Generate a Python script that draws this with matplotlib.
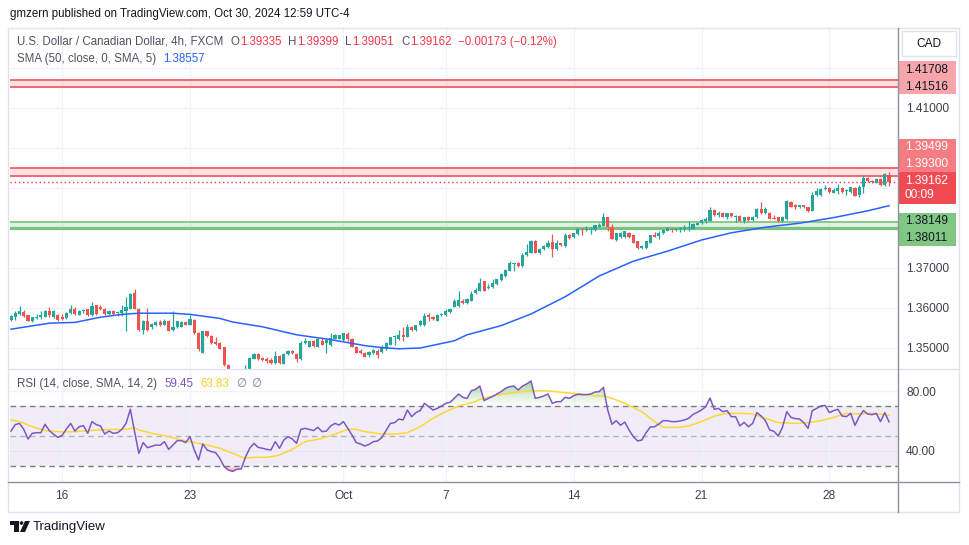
import numpy as np
import matplotlib
matplotlib.use("Agg")
import matplotlib.pyplot as plt
from matplotlib.patches import Rectangle, Polygon, Ellipse
from matplotlib.lines import Line2D
from matplotlib.path import Path
from matplotlib.colors import LinearSegmentedColormap

plt.rcParams['font.family'] = ['Liberation Sans', 'DejaVu Sans']

# ---- data (USD/CAD 4h, FXCM) ----
opens = [1.3570, 1.3577, 1.3585, 1.3590, 1.3582, 1.3567, 1.3575, 1.3577, 1.3578, 1.3593,
         1.3577, 1.3583, 1.3578, 1.3575, 1.3588, 1.3597, 1.3583, 1.3592, 1.3597, 1.3582,
         1.3607, 1.3602, 1.3598, 1.3585, 1.3593, 1.3588, 1.3588, 1.3593, 1.3598, 1.3637,
         1.3598, 1.3545, 1.3568, 1.3552, 1.3557, 1.3565, 1.3558, 1.3568, 1.3545, 1.3552,
         1.3552, 1.3565, 1.3558, 1.3570, 1.3538, 1.3488, 1.3542, 1.3530, 1.3515, 1.3513,
         1.3502, 1.3458, 1.3440, 1.3430, 1.3438, 1.3436, 1.3440, 1.3473, 1.3485, 1.3475,
         1.3472, 1.3470, 1.3462, 1.3480, 1.3460, 1.3485, 1.3493, 1.3485, 1.3472, 1.3512,
         1.3503, 1.3517, 1.3503, 1.3518, 1.3513, 1.3507, 1.3523, 1.3523, 1.3520, 1.3535,
         1.3523, 1.3503, 1.3493, 1.3488, 1.3482, 1.3487, 1.3493, 1.3490, 1.3497, 1.3508,
         1.3527, 1.3523, 1.3533, 1.3528, 1.3553, 1.3545, 1.3557, 1.3557, 1.3582, 1.3578,
         1.3568, 1.3582, 1.3582, 1.3590, 1.3603, 1.3605, 1.3618, 1.3612, 1.3618, 1.3637,
         1.3643, 1.3667, 1.3650, 1.3652, 1.3660, 1.3670, 1.3680, 1.3692, 1.3710, 1.3713,
         1.3705, 1.3732, 1.3738, 1.3767, 1.3737, 1.3747, 1.3752, 1.3765, 1.3747, 1.3762,
         1.3755, 1.3783, 1.3777, 1.3785, 1.3797, 1.3795, 1.3795, 1.3795, 1.3803, 1.3805,
         1.3827, 1.3802, 1.3770, 1.3777, 1.3777, 1.3788, 1.3782, 1.3767, 1.3750, 1.3750,
         1.3763, 1.3782, 1.3780, 1.3787, 1.3793, 1.3798, 1.3795, 1.3797, 1.3797, 1.3800,
         1.3798, 1.3808, 1.3812, 1.3817, 1.3817, 1.3845, 1.3832, 1.3838, 1.3828, 1.3837,
         1.3828, 1.3830, 1.3818, 1.3828, 1.3820, 1.3827, 1.3848, 1.3837, 1.3838, 1.3825,
         1.3827, 1.3817, 1.3823, 1.3865, 1.3857, 1.3852, 1.3857, 1.3852, 1.3842, 1.3882,
         1.3882, 1.3898, 1.3900, 1.3888, 1.3893, 1.3900, 1.3892, 1.3890, 1.3900, 1.3882,
         1.3903, 1.3925, 1.3917, 1.3913, 1.3923, 1.3907, 1.39335]
highs = [1.3582, 1.3592, 1.3606, 1.3595, 1.3583, 1.3578, 1.3585, 1.3592, 1.3595, 1.3602,
         1.3595, 1.3585, 1.3585, 1.3590, 1.3608, 1.3602, 1.3595, 1.3598, 1.3598, 1.3615,
         1.3608, 1.3607, 1.3600, 1.3595, 1.3595, 1.3593, 1.3608, 1.3627, 1.3637, 1.3648,
         1.3600, 1.3570, 1.3600, 1.3563, 1.3567, 1.3570, 1.3573, 1.3570, 1.3592, 1.3568,
         1.3567, 1.3567, 1.3582, 1.3572, 1.3540, 1.3543, 1.3543, 1.3532, 1.3527, 1.3515,
         1.3503, 1.3460, 1.3446, 1.3442, 1.3444, 1.3457, 1.3477, 1.3488, 1.3487, 1.3478,
         1.3478, 1.3475, 1.3492, 1.3482, 1.3487, 1.3495, 1.3495, 1.3487, 1.3518, 1.3525,
         1.3518, 1.3520, 1.3525, 1.3528, 1.3523, 1.3538, 1.3535, 1.3533, 1.3538, 1.3540,
         1.3525, 1.3505, 1.3497, 1.3490, 1.3492, 1.3497, 1.3497, 1.3507, 1.3515, 1.3528,
         1.3533, 1.3545, 1.3553, 1.3560, 1.3555, 1.3558, 1.3570, 1.3588, 1.3588, 1.3580,
         1.3585, 1.3587, 1.3597, 1.3598, 1.3622, 1.3642, 1.3622, 1.3625, 1.3643, 1.3650,
         1.3675, 1.3668, 1.3660, 1.3672, 1.3673, 1.3687, 1.3697, 1.3718, 1.3713, 1.3715,
         1.3738, 1.3760, 1.3770, 1.3770, 1.3750, 1.3757, 1.3770, 1.3785, 1.3770, 1.3763,
         1.3787, 1.3785, 1.3788, 1.3800, 1.3800, 1.3805, 1.3802, 1.3808, 1.3812, 1.3838,
         1.3828, 1.3810, 1.3788, 1.3790, 1.3793, 1.3790, 1.3783, 1.3768, 1.3757, 1.3768,
         1.3783, 1.3790, 1.3792, 1.3797, 1.3802, 1.3800, 1.3800, 1.3802, 1.3807, 1.3817,
         1.3812, 1.3815, 1.3823, 1.3827, 1.3852, 1.3847, 1.3842, 1.3840, 1.3838, 1.3838,
         1.3833, 1.3832, 1.3828, 1.3830, 1.3830, 1.3850, 1.3865, 1.3853, 1.3840, 1.3832,
         1.3828, 1.3830, 1.3870, 1.3867, 1.3860, 1.3858, 1.3858, 1.3853, 1.3890, 1.3900,
         1.3900, 1.3907, 1.3902, 1.3900, 1.3910, 1.3902, 1.3898, 1.3903, 1.3902, 1.3907,
         1.3932, 1.3928, 1.3920, 1.3925, 1.3925, 1.3938, 1.39399]
lows = [1.3568, 1.3570, 1.3582, 1.3577, 1.3567, 1.3565, 1.3572, 1.3572, 1.3577, 1.3578,
        1.3575, 1.3568, 1.3570, 1.3573, 1.3585, 1.3583, 1.3582, 1.3588, 1.3580, 1.3580,
        1.3583, 1.3595, 1.3583, 1.3583, 1.3583, 1.3580, 1.3580, 1.3542, 1.3597, 1.3597,
        1.3543, 1.3535, 1.3543, 1.3547, 1.3555, 1.3555, 1.3557, 1.3542, 1.3543, 1.3550,
        1.3552, 1.3557, 1.3557, 1.3535, 1.3492, 1.3488, 1.3528, 1.3510, 1.3508, 1.3497,
        1.3455, 1.3435, 1.3425, 1.3420, 1.3428, 1.3430, 1.3435, 1.3472, 1.3470, 1.3467,
        1.3463, 1.3460, 1.3460, 1.3460, 1.3460, 1.3483, 1.3485, 1.3465, 1.3470, 1.3510,
        1.3502, 1.3503, 1.3502, 1.3507, 1.3488, 1.3505, 1.3522, 1.3522, 1.3518, 1.3518,
        1.3502, 1.3487, 1.3485, 1.3477, 1.3478, 1.3485, 1.3475, 1.3488, 1.3495, 1.3507,
        1.3508, 1.3520, 1.3518, 1.3528, 1.3543, 1.3543, 1.3555, 1.3555, 1.3568, 1.3570,
        1.3567, 1.3580, 1.3580, 1.3588, 1.3602, 1.3603, 1.3610, 1.3610, 1.3617, 1.3635,
        1.3642, 1.3642, 1.3647, 1.3650, 1.3658, 1.3668, 1.3678, 1.3692, 1.3692, 1.3703,
        1.3703, 1.3730, 1.3737, 1.3737, 1.3735, 1.3745, 1.3750, 1.3727, 1.3745, 1.3755,
        1.3753, 1.3773, 1.3775, 1.3783, 1.3782, 1.3792, 1.3785, 1.3793, 1.3802, 1.3805,
        1.3792, 1.3772, 1.3768, 1.3775, 1.3775, 1.3775, 1.3762, 1.3748, 1.3748, 1.3748,
        1.3762, 1.3777, 1.3772, 1.3785, 1.3792, 1.3790, 1.3792, 1.3790, 1.3792, 1.3793,
        1.3797, 1.3807, 1.3810, 1.3813, 1.3817, 1.3830, 1.3828, 1.3827, 1.3823, 1.3828,
        1.3815, 1.3817, 1.3813, 1.3818, 1.3818, 1.3825, 1.3835, 1.3835, 1.3822, 1.3822,
        1.3815, 1.3815, 1.3820, 1.3852, 1.3848, 1.3850, 1.3850, 1.3840, 1.3842, 1.3880,
        1.3880, 1.3895, 1.3888, 1.3887, 1.3885, 1.3887, 1.3883, 1.3888, 1.3880, 1.3878,
        1.3887, 1.3915, 1.3912, 1.3912, 1.3905, 1.3905, 1.39051]
closes = [1.3580, 1.3587, 1.3592, 1.3580, 1.3568, 1.3577, 1.3578, 1.3582, 1.3593, 1.3582,
          1.3593, 1.3570, 1.3572, 1.3588, 1.3597, 1.3585, 1.3593, 1.3595, 1.3582, 1.3605,
          1.3585, 1.3598, 1.3585, 1.3593, 1.3585, 1.3590, 1.3595, 1.3603, 1.3635, 1.3598,
          1.3545, 1.3568, 1.3545, 1.3560, 1.3565, 1.3558, 1.3568, 1.3543, 1.3553, 1.3567,
          1.3565, 1.3558, 1.3572, 1.3538, 1.3498, 1.3542, 1.3530, 1.3512, 1.3510, 1.3498,
          1.3457, 1.3440, 1.3430, 1.3438, 1.3432, 1.3446, 1.3475, 1.3485, 1.3472, 1.3470,
          1.3467, 1.3463, 1.3480, 1.3462, 1.3485, 1.3492, 1.3487, 1.3472, 1.3513, 1.3517,
          1.3517, 1.3505, 1.3522, 1.3508, 1.3520, 1.3525, 1.3532, 1.3532, 1.3537, 1.3522,
          1.3503, 1.3488, 1.3488, 1.3478, 1.3490, 1.3495, 1.3483, 1.3500, 1.3512, 1.3527,
          1.3528, 1.3533, 1.3527, 1.3553, 1.3545, 1.3557, 1.3568, 1.3580, 1.3577, 1.3572,
          1.3583, 1.3585, 1.3593, 1.3597, 1.3618, 1.3620, 1.3612, 1.3623, 1.3635, 1.3645,
          1.3663, 1.3643, 1.3653, 1.3662, 1.3672, 1.3685, 1.3695, 1.3713, 1.3712, 1.3705,
          1.3733, 1.3740, 1.3767, 1.3738, 1.3748, 1.3755, 1.3763, 1.3747, 1.3762, 1.3758,
          1.3783, 1.3775, 1.3787, 1.3797, 1.3795, 1.3797, 1.3797, 1.3807, 1.3807, 1.3827,
          1.3802, 1.3772, 1.3787, 1.3788, 1.3792, 1.3778, 1.3763, 1.3750, 1.3755, 1.3767,
          1.3782, 1.3778, 1.3787, 1.3795, 1.3800, 1.3795, 1.3797, 1.3798, 1.3800, 1.3803,
          1.3810, 1.3813, 1.3820, 1.3822, 1.3845, 1.3832, 1.3838, 1.3828, 1.3837, 1.3830,
          1.3830, 1.3818, 1.3827, 1.3820, 1.3828, 1.3848, 1.3837, 1.3848, 1.3823, 1.3823,
          1.3817, 1.3828, 1.3867, 1.3853, 1.3852, 1.3857, 1.3852, 1.3842, 1.3883, 1.3892,
          1.3898, 1.3900, 1.3890, 1.3895, 1.3900, 1.3890, 1.3895, 1.3902, 1.3880, 1.3903,
          1.3925, 1.3917, 1.3915, 1.3922, 1.3907, 1.3935, 1.39162]

# SMA(50) read at sample bars
sma_bars = [0, 9, 15, 21, 26, 30, 38, 42, 49, 52, 59, 67, 75, 83, 87, 91, 96, 100, 104,
            107, 115, 122, 130, 138, 146, 154, 162, 169, 177, 185, 193, 201, 206]
sma_vals = [1.3547, 1.3562, 1.3564, 1.3577, 1.3584, 1.3587, 1.3587, 1.3584, 1.3574, 1.3565,
            1.3553, 1.3533, 1.3521, 1.3506, 1.3501, 1.3498, 1.3500, 1.3509, 1.3518, 1.3533,
            1.3556, 1.3585, 1.3628, 1.3680, 1.3717, 1.3742, 1.3770, 1.3788, 1.3802, 1.3812,
            1.3826, 1.3843, 1.38557]

rsi = [53.3, 57.6, 58.4, 54.4, 48.0, 51.8, 52.2, 52.2, 57.8, 53.6,
       51.1, 49.1, 50.4, 54.7, 58.4, 53.3, 56.2, 56.9, 51.8, 59.6,
       57.6, 56.7, 51.3, 53.3, 51.8, 52.2, 54.4, 58.4, 67.8, 52.9,
       38.4, 45.6, 42.2, 43.1, 44.0, 43.8, 46.2, 41.1, 44.0, 46.9,
       46.9, 45.6, 49.6, 40.7, 34.0, 44.7, 40.7, 39.6, 38.9, 35.1,
       29.6, 27.3, 26.4, 27.8, 28.0, 35.8, 41.8, 45.1, 42.4, 41.8,
       41.1, 40.7, 46.2, 41.8, 47.3, 49.6, 48.0, 45.1, 54.4, 55.1,
       54.4, 53.6, 55.8, 52.9, 53.3, 56.7, 58.4, 57.3, 59.6, 55.1,
       50.7, 45.6, 44.7, 43.3, 44.4, 46.2, 46.7, 48.9, 53.6, 58.4,
       58.9, 61.3, 60.7, 67.3, 62.9, 65.6, 66.9, 71.8, 69.6, 67.3,
       68.4, 70.0, 71.8, 72.4, 75.1, 78.0, 75.8, 75.1, 80.2, 81.1,
       83.3, 73.6, 75.1, 76.4, 78.0, 79.6, 81.8, 82.9, 83.3, 80.7,
       83.3, 84.7, 86.7, 75.1, 75.8, 76.7, 78.0, 71.8, 72.9, 72.9,
       75.8, 75.1, 76.9, 77.8, 77.6, 77.6, 78.0, 79.3, 79.6, 82.4,
       67.3, 57.8, 60.2, 57.1, 59.3, 54.0, 49.6, 46.7, 47.3, 52.2,
       56.0, 56.2, 58.0, 60.2, 60.2, 59.6, 59.6, 60.0, 60.7, 61.8,
       64.4, 65.8, 67.3, 69.6, 75.3, 67.8, 68.4, 66.2, 66.9, 62.9,
       62.9, 56.7, 59.1, 56.2, 58.4, 65.6, 63.3, 60.2, 54.0, 53.1,
       50.0, 55.8, 66.2, 62.4, 61.6, 61.3, 58.9, 55.1, 66.9, 68.4,
       70.0, 70.4, 65.6, 66.9, 67.8, 63.3, 62.9, 65.1, 57.1, 62.9,
       66.9, 64.7, 64.2, 65.1, 59.6, 65.6, 59.45]

# RSI-based SMA(14) read at sample bars
rsi_ma_bars = [0, 2, 5, 8, 12, 15, 18, 21, 24, 27, 29, 30, 33, 37, 40, 43, 46, 49, 52, 55,
               57, 60, 63, 66, 69, 73, 76, 79, 81, 83, 87, 90, 93, 96, 99, 102, 105, 109,
               110, 114, 118, 122, 126, 130, 134, 137, 139, 141, 144, 148, 151, 153, 157,
               159, 162, 165, 168, 171, 174, 177, 180, 184, 187, 190, 193, 196, 199, 202, 206]
rsi_ma_vals = [60.7, 59.6, 56.2, 53.6, 52.7, 52.9, 53.6, 54.0, 54.4, 54.4, 55.6, 54.0, 51.8,
               49.6, 47.3, 45.6, 44.0, 41.8, 38.4, 35.1, 35.8, 35.8, 37.3, 41.1, 46.2, 48.4,
               51.3, 54.4, 54.4, 52.9, 51.3, 51.3, 52.2, 56.2, 61.8, 66.2, 70.0, 72.9, 74.4,
               77.3, 78.9, 80.2, 80.0, 78.9, 78.0, 76.7, 76.7, 75.1, 71.8, 66.2, 59.6, 55.8,
               55.8, 56.7, 59.6, 63.3, 65.1, 65.1, 64.7, 61.8, 58.9, 58.4, 58.9, 60.2, 62.4,
               65.1, 64.7, 65.1, 63.83]

date_bars = [12, 42, 78, 102, 132, 162, 192]
date_labels = ['16', '23', 'Oct', '7', '14', '21', '28']

resistance_hi = (1.41516, 1.41708)
resistance_lo = (1.39300, 1.39499)
support = (1.38011, 1.38149)
price_grid = [1.35, 1.36, 1.37, 1.38, 1.39, 1.40, 1.41, 1.42]
price_ticks = [1.35, 1.36, 1.37, 1.41]
last_price = 1.39162

# ---- styling ----
GREEN = '#26a69a'
RED = '#ef5350'
GRID = '#f0f3fa'
TXT = '#131722'
LEG = '#50535e'
AXC = '#3d4049'
FS = 8.3
AFS = 8.6

W, H = 970, 545
fig = plt.figure(figsize=(W / 100, H / 100), dpi=100)
fig.patch.set_facecolor('white')


def box(x0, y0, x1, y1):
    return [x0 / W, 1 - y1 / H, (x1 - x0) / W, (y1 - y0) / H]


def prect(x0, y0, x1, y1, **kw):
    fig.add_artist(Rectangle((x0 / W, 1 - y1 / H), (x1 - x0) / W, (y1 - y0) / H,
                             transform=fig.transFigure, **kw))


def ptext(x, y, s, **kw):
    return fig.text(x / W, 1 - y / H, s, **kw)


def pline(xs, ys, **kw):
    fig.add_artist(Line2D([v / W for v in xs], [1 - v / H for v in ys],
                          transform=fig.transFigure, **kw))


ax = fig.add_axes(box(10, 27, 898, 369))
ax2 = fig.add_axes(box(10, 369, 898, 482), sharex=ax)
for a in (ax, ax2):
    for s in a.spines.values():
        s.set_visible(False)
    a.set_axisbelow(True)
    a.set_facecolor('none')

# ---- price pane ----
o = np.array(opens); hi = np.array(highs); lo = np.array(lows); c = np.array(closes)
x = np.arange(len(c))
cols = np.where(c >= o, GREEN, RED)

for v in price_grid:
    ax.axhline(v, color=GRID, lw=1, zorder=0)

ax.axhspan(*resistance_hi, color='#f23645', alpha=0.14, lw=0, zorder=1)
ax.axhspan(*resistance_lo, color='#f23645', alpha=0.14, lw=0, zorder=1)
ax.axhspan(*support, color='#4caf50', alpha=0.16, lw=0, zorder=1)
for v in resistance_hi + resistance_lo:
    ax.axhline(v, color='#f0686f', lw=1.4, zorder=2)
ax.axhline(support[1], color='#81c784', lw=1.3, zorder=2)
ax.axhline(support[0], color='#7bc17f', lw=2.3, zorder=2)
ax.axhline(last_price, color='#f23645', lw=1, ls=(0, (1, 2)), zorder=2)

ax.vlines(x, lo, hi, colors=cols, lw=0.9, zorder=3)
bh = np.maximum(np.abs(c - o), 0.00025)
ax.bar(x, bh, bottom=(o + c) / 2 - bh / 2, width=0.74, color=cols, lw=0, zorder=4)
ax.plot(sma_bars, sma_vals, color='#2962ff', lw=1.1, zorder=5)

ax.set_xlim(-0.23, 208.1)
ax.set_ylim(1.34475, 1.43025)
ax.yaxis.tick_right()
ax.set_yticks(price_ticks, [f'{v:.5f}' for v in price_ticks])
ax.tick_params(axis='y', length=0, pad=5.8, labelsize=AFS, labelcolor=AXC)
ax.tick_params(axis='x', length=0, labelbottom=False)
ax.grid(axis='x', color=GRID, lw=1)

# ---- RSI pane ----
r = np.array(rsi)
for v in (40, 80):
    ax2.axhline(v, color=GRID, lw=1, zorder=0)
ax2.axhspan(30, 70, color='#7e57c2', alpha=0.1, lw=0, zorder=0.5)
ax2.axhline(70, color='#787b86', lw=1, ls=(0, (4, 3)), zorder=2)
ax2.axhline(30, color='#787b86', lw=1, ls=(0, (4, 3)), zorder=2)
ax2.axhline(50, color='#b2b5be', lw=1, ls=(0, (4, 3)), zorder=2)


def grad_fill(axis, xs, ys, level, above, rgb):
    mask = ys > level if above else ys < level
    fb = axis.fill_between(xs, ys, level, where=mask, interpolate=True,
                           facecolor='none', edgecolor='none')
    paths = fb.get_paths()
    if not paths:
        return
    clip = Path.make_compound_path(*paths)
    cm = LinearSegmentedColormap.from_list('g', [(*rgb, 0.0), (*rgb, 0.5)])
    g = np.linspace(0, 1, 128).reshape(-1, 1)
    if above:
        ext = [xs[0], xs[-1], level, ys.max()]
    else:
        ext = [xs[0], xs[-1], ys.min(), level]
        g = g[::-1]
    im = axis.imshow(g, extent=ext, origin='lower', aspect='auto', cmap=cm,
                     vmin=0, vmax=1, zorder=1, interpolation='bilinear')
    im.set_clip_path(clip, axis.transData)


grad_fill(ax2, x.astype(float), r, 70, True, (0.30, 0.69, 0.31))
grad_fill(ax2, x.astype(float), r, 30, False, (0.95, 0.21, 0.27))

ax2.plot(rsi_ma_bars, rsi_ma_vals, color='#fdd835', lw=1.1, zorder=3)
ax2.plot(x, r, color='#7e57c2', lw=1.1, zorder=4)

ax2.set_xlim(-0.23, 208.1)
ax2.set_ylim(19.33, 94.67)
ax2.yaxis.tick_right()
ax2.set_yticks([40, 80], ['40.00', '80.00'])
ax2.set_xticks(date_bars, date_labels)
ax2.tick_params(axis='y', length=0, pad=5.8, labelsize=AFS, labelcolor=AXC)
ax2.tick_params(axis='x', length=0, pad=6, labelsize=AFS, labelcolor=AXC)
ax2.grid(axis='x', color=GRID, lw=1)

# ---- frame lines ----
pline([8.5, 959.5, 959.5, 8.5, 8.5], [27.5, 27.5, 511.5, 511.5, 27.5], color='#e0e3eb', lw=1)
pline([8.5, 959.5], [369, 369], color='#e0e3eb', lw=1)
pline([8.5, 959.5], [482, 482], color='#8f929b', lw=1)
pline([898, 898], [27.5, 511.5], color='#8f929b', lw=1)

# ---- price-axis labels ----
prect(902, 31, 956, 56, facecolor='white', edgecolor='#e0e3eb', lw=1)
ptext(929, 44, 'CAD', ha='center', va='center', fontsize=AFS, color=TXT)

label_boxes = [
    (61, 94, '#f6a6aa', TXT, ['1.41708', '1.41516'], [70, 87]),
    (139, 172, '#f57c82', 'white', ['1.39499', '1.39300'], [147, 164]),
    (172, 204, '#f04a52', 'white', ['1.39162', '00:09'], [181, 195]),
    (213, 246, '#81c784', TXT, ['1.38149', '1.38011'], [221, 238]),
]
for y0, y1, bg, fg, labs, ys in label_boxes:
    prect(899, y0, 956, y1, facecolor=bg, edgecolor='none')
    for s, yy in zip(labs, ys):
        ptext(905, yy, s, ha='left', va='center', fontsize=AFS, color=fg)

# ---- legends ----
rend = fig.canvas.get_renderer()


def run_text(x0, y, parts, size):
    for s, col, gap in parts:
        t = ptext(x0, y, s, color=col, fontsize=size, va='center', ha='left')
        x0 += t.get_window_extent(renderer=rend).width + gap


ptext(10, 14, 'gmzern published on TradingView.com, Oct 30, 2024 12:59 UTC-4',
      fontsize=8.3, color=TXT, va='center')

R_TXT = '#f23645'
run_text(17, 42, [
    ('U.S. Dollar / Canadian Dollar, 4h, FXCM', LEG, 7),
    ('O', LEG, 0.5), ('1.39335', R_TXT, 7),
    ('H', LEG, 0.5), ('1.39399', R_TXT, 7),
    ('L', LEG, 0.5), ('1.39051', R_TXT, 7),
    ('C', LEG, 0.5), ('1.39162', R_TXT, 7),
    ('\u22120.00173 (\u22120.12%)', R_TXT, 0),
], FS)
run_text(17, 59, [('SMA (50, close, 0, SMA, 5)', LEG, 7), ('1.38557', '#2962ff', 0)], FS)
run_text(17, 384, [
    ('RSI (14, close, SMA, 14, 2)', LEG, 7), ('59.45', '#7e57c2', 7),
    ('63.83', '#f5cf2c', 7), ('\u2205', '#787b86', 5), ('\u2205', '#787b86', 0),
], FS)

# ---- TradingView logo ----
prect(10, 521, 18.5, 524.5, facecolor=TXT, edgecolor='none')
prect(14.5, 521, 18.5, 532, facecolor=TXT, edgecolor='none')
fig.add_artist(Ellipse((21.5 / W, 1 - 523 / H), 3.6 / W, 3.6 / H,
                       transform=fig.transFigure, facecolor=TXT, edgecolor='none'))
fig.add_artist(Polygon([(25 / W, 1 - 521 / H), (30 / W, 1 - 521 / H),
                        (25 / W, 1 - 532 / H), (20 / W, 1 - 532 / H)],
                       closed=True, transform=fig.transFigure, facecolor=TXT, edgecolor='none'))
ptext(33, 527, 'TradingView', fontsize=9.5, color=TXT, va='center')

fig.savefig('out.png', dpi=100, facecolor='white')
